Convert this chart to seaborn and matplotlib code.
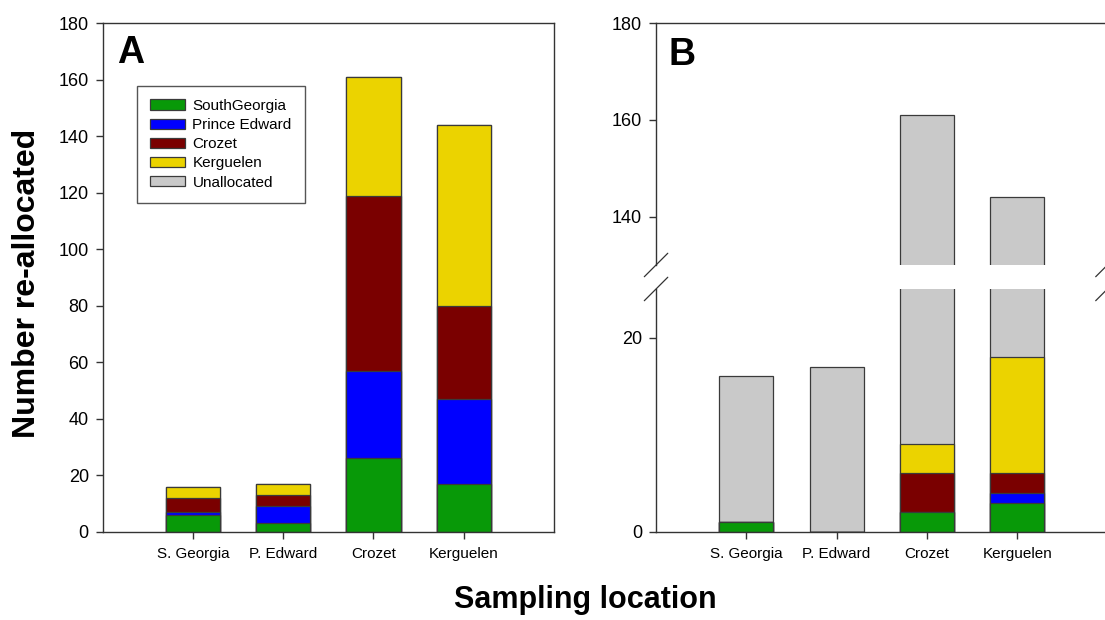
import numpy as np
import seaborn as sns
import matplotlib.pyplot as plt
from matplotlib.patches import Patch

locations = ['S. Georgia', 'P. Edward', 'Crozet', 'Kerguelen']
sources = ['SouthGeorgia', 'Prince Edward', 'Crozet', 'Kerguelen', 'Unallocated']
colors = ['#089908', '#0000ff', '#7a0000', '#ebd300', '#c9c9c9']

# panel A
a_south_georgia = [6, 3, 26, 17]
a_prince_edward = [1, 6, 31, 30]
a_crozet = [5, 4, 62, 33]
a_kerguelen = [4, 4, 42, 64]
a_unallocated = [0, 0, 0, 0]

# panel B
b_south_georgia = [1, 0, 2, 3]
b_prince_edward = [0, 0, 0, 1]
b_crozet = [0, 0, 4, 2]
b_kerguelen = [0, 0, 3, 12]
b_unallocated = [15, 17, 152, 126]

sns.set_style('ticks')
plt.rcParams['font.family'] = ['Liberation Sans', 'DejaVu Sans']
plt.rcParams['text.color'] = 'black'
EDGE = '#3a3a3a'
SPINE = '#333333'


def draw_stack(ax, layers):
    tops = np.cumsum(layers, axis=0)
    # tallest cumulative layer first, lower ones drawn over it
    for i in reversed(range(len(layers))):
        sns.barplot(x=locations, y=tops[i], color=colors[i], width=0.6,
                    saturation=1, edgecolor=EDGE, linewidth=0.9,
                    errorbar=None, ax=ax)
    ax.set_xlim(-1, 4)
    ax.set_xlabel('')
    ax.set_ylabel('')


def style(ax):
    for s in ax.spines.values():
        s.set_color(SPINE)
        s.set_linewidth(1.0)
    ax.tick_params(axis='y', labelsize=13, length=5, width=1, color=SPINE,
                   labelcolor='black', pad=5)
    ax.tick_params(axis='x', labelsize=11, length=5, width=1, color=SPINE,
                   labelcolor='black', pad=6)


fig = plt.figure(figsize=(11.05, 6.2), dpi=100)

layers_a = [a_south_georgia, a_prince_edward, a_crozet, a_kerguelen, a_unallocated]
layers_b = [b_south_georgia, b_prince_edward, b_crozet, b_kerguelen, b_unallocated]

axA = fig.add_axes([0.0929, 0.1424, 0.4085, 0.82])
draw_stack(axA, layers_a)
axA.set_ylim(0, 180)
axA.set_yticks(range(0, 181, 20))
style(axA)
axA.text(0.031, 0.921, 'A', transform=axA.transAxes, fontsize=27,
         fontweight='bold', va='baseline')
handles = [Patch(facecolor=c, edgecolor=EDGE, linewidth=0.9) for c in colors]
leg = axA.legend(handles, sources, loc='upper left', bbox_to_anchor=(0.0753, 0.877),
                 borderaxespad=0, fontsize=11, handlelength=2.3, handleheight=0.65,
                 handletextpad=0.5, labelspacing=0.34, borderpad=0.85,
                 fancybox=False, framealpha=1, edgecolor='#555555')
leg.get_frame().set_linewidth(1.0)

# panel B, broken y axis
axBt = fig.add_axes([0.5937, 0.5726, 0.4085, 0.3898])
axBb = fig.add_axes([0.5937, 0.1424, 0.4085, 0.3915])
draw_stack(axBt, layers_b)
draw_stack(axBb, layers_b)
axBt.set_ylim(130, 180)
axBt.set_yticks([140, 160, 180])
axBb.set_ylim(0, 25)
axBb.set_yticks([0, 20])
style(axBt)
style(axBb)
axBt.spines['bottom'].set_visible(False)
axBt.tick_params(axis='x', bottom=False, labelbottom=False)
axBb.spines['top'].set_visible(False)
axBt.text(0.0266, 0.8275, 'B', transform=axBt.transAxes, fontsize=27,
          fontweight='bold', va='baseline')

dx = 0.026
for ax, y0 in [(axBt, 0), (axBb, 1)]:
    dy = dx * 451.4 / (ax.get_position().height * 620)
    for x0 in (0, 1):
        ax.plot([x0 - dx, x0 + dx], [y0 - dy, y0 + dy], transform=ax.transAxes,
                color=SPINE, linewidth=0.9, clip_on=False)

fig.text(0.024, 0.543, 'Number re-allocated', rotation=90, fontsize=23,
         fontweight='bold', ha='center', va='center')
fig.text(0.530, 0.0194, 'Sampling location', fontsize=22, fontweight='bold',
         ha='center', va='baseline')

fig.savefig('out.png', dpi=100)
